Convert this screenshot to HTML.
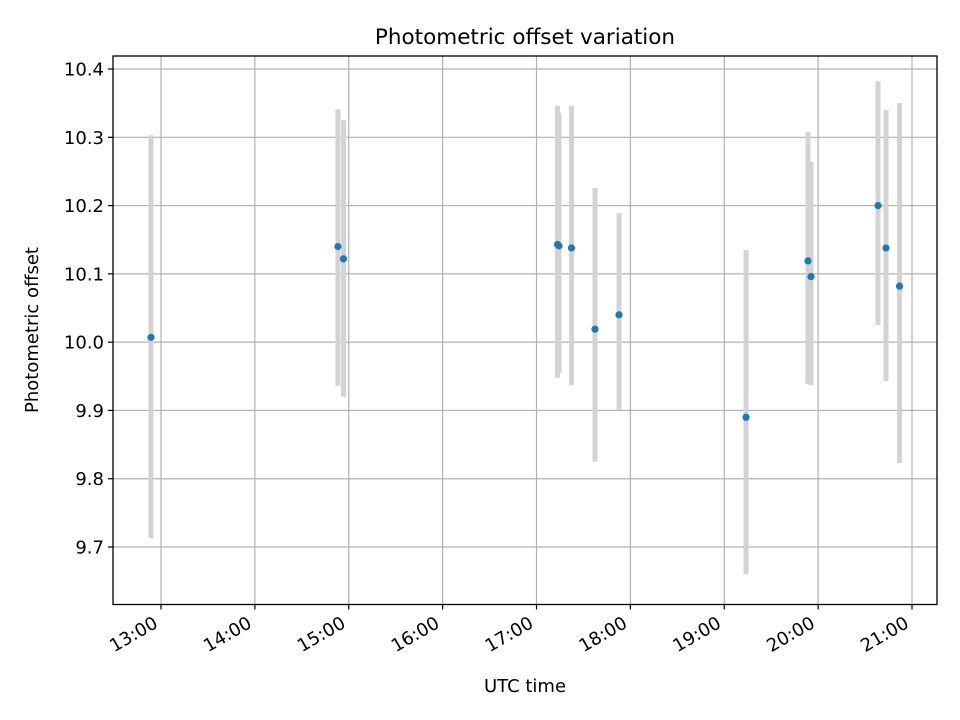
<!DOCTYPE html>
<html><head><meta charset="utf-8"><style>
html,body{margin:0;padding:0;background:#fff;}
svg{display:block;font-family:"DejaVu Sans","Liberation Sans",sans-serif;}
</style></head><body>
<svg id="chart" width="960" height="720" viewBox="0 0 960 720" xmlns="http://www.w3.org/2000/svg">
<rect x="0" y="0" width="960" height="720" fill="#fff"/>
<g id="grid"></g>
<g id="bars"></g>
<g id="pts"></g>
<rect x="113" y="56" width="824" height="548.5" fill="none" stroke="#000" stroke-width="1.3"/>
<g id="ticks"></g>
<text x="525" y="44" font-size="21.5" text-anchor="middle">Photometric offset variation</text>
<text x="525" y="692" font-size="18" text-anchor="middle">UTC time</text>
<text x="38" y="330" font-size="18" text-anchor="middle" transform="rotate(-90 38 330)">Photometric offset</text>
</svg>
<script>
const times = [12.893,14.885,14.944,17.224,17.240,17.373,17.623,17.879,19.232,19.892,19.924,20.638,20.723,20.867];
const offsets = [10.007,10.140,10.122,10.143,10.141,10.138,10.019,10.040,9.890,10.119,10.096,10.200,10.138,10.082];
const errHi = [10.303,10.341,10.325,10.346,10.336,10.346,10.226,10.189,10.135,10.308,10.264,10.382,10.340,10.350];
const errLo = [9.713,9.936,9.920,9.948,9.955,9.937,9.825,9.901,9.660,9.939,9.937,10.025,9.943,9.823];
const yTicks = [9.7,9.8,9.9,10.0,10.1,10.2,10.3,10.4];
const yTickLabels = ["9.7","9.8","9.9","10.0","10.1","10.2","10.3","10.4"];
const xTicks = [13,14,15,16,17,18,19,20,21];
const xTickLabels = ["13:00","14:00","15:00","16:00","17:00","18:00","19:00","20:00","21:00"];

const NS="http://www.w3.org/2000/svg";
function X(h){return 161+(h-13)*93.875;}
function Y(v){return 69+(10.4-v)*682.9;}
function mk(tag,attrs,parent){const e=document.createElementNS(NS,tag);for(const k in attrs)e.setAttribute(k,attrs[k]);document.getElementById(parent).appendChild(e);return e;}
const L=113,R=937,T=56,B=604.5;
yTicks.forEach((v,i)=>{
  const g=mk('line',{x1:L,x2:R,y1:Y(v),y2:Y(v),stroke:'#b0b0b0','stroke-width':1.2},'grid');
  
  
  const t=mk('line',{x1:L-5,x2:L,y1:Y(v),y2:Y(v),stroke:'#000','stroke-width':1.2},'ticks');
  
  
  const tx=mk('text',{x:L-9,y:Y(v)+6.5,'font-size':18,'text-anchor':'end'},'ticks');
  tx.textContent=yTickLabels[i];
  
  
});
xTicks.forEach((h,i)=>{
  const x=X(h);
  const g=mk('line',{x1:x,x2:x,y1:T,y2:B,stroke:'#b0b0b0','stroke-width':1.2},'grid');
  
  
  const t=mk('line',{x1:x,x2:x,y1:B,y2:B+5,stroke:'#000','stroke-width':1.2},'ticks');
  
  
  const tx=mk('text',{x:0,y:0,'font-size':18,'text-anchor':'end',transform:`translate(${x-2},${B+22}) rotate(-30)`},'ticks');
  tx.textContent=xTickLabels[i];
  
  
});
times.forEach((h,i)=>{
  const b=mk('rect',{x:X(h)-2.5,y:Y(errHi[i]),width:5,height:Y(errLo[i])-Y(errHi[i]),fill:'#d3d3d3'},'bars');
  
  
});
times.forEach((h,i)=>{
  const c=mk('circle',{cx:X(h),cy:Y(offsets[i]),r:3.6,fill:'#1f77b4'},'pts');
  
  
});
</script>
</body></html>
